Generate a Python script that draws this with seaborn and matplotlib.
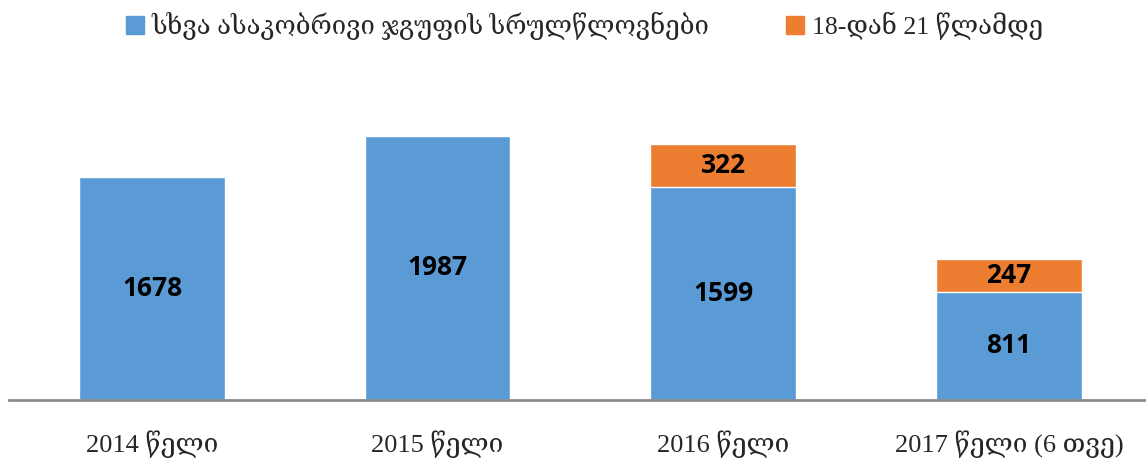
import matplotlib
matplotlib.use("Agg")
import matplotlib.pyplot as plt
import matplotlib.patches as mpatches
import pandas as pd
import seaborn as sns

# data
years = ["2014 წელი", "2015 წელი", "2016 წელი", "2017 წელი (6 თვე)"]
other_ages = [1678, 1987, 1599, 811]
age_18_21 = [0, 0, 322, 247]
series_names = ["სხვა ასაკობრივი ჯგუფის სრულწლოვნები", "18-დან 21 წლამდე"]

blue = "#5B9BD5"
orange = "#ED7D31"

sns.set_style("white")
label_font = ["Liberation Serif", "DejaVu Serif"]

df = pd.DataFrame({"year": years, "other": other_ages, "young": age_18_21})
df["total"] = df["other"] + df["young"]

fig = plt.figure(figsize=(11.46, 4.58), dpi=100)
ax = fig.add_axes([0.008, 0.127, 0.992, 0.72])

# stacked: orange total first, then blue base on top of it
sns.barplot(data=df, x="year", y="total", color=orange, width=0.51,
            saturation=1, ax=ax)
sns.barplot(data=df, x="year", y="other", color=blue, width=0.51,
            saturation=1, ax=ax)

for i, row in df.iterrows():
    ax.text(i, row["other"] / 2, str(row["other"]), ha="center", va="center",
            fontsize=19, fontweight="bold", family="Open Sans", color="black")
    if row["young"] > 0:
        ax.text(i, row["other"] + row["young"] / 2, str(row["young"]),
                ha="center", va="center", fontsize=19, fontweight="bold",
                family="Open Sans", color="black")

ax.set_ylim(0, 2480)
ax.set_xlim(-0.5, 3.48)
ax.set_xlabel("")
ax.set_ylabel("")
ax.set_yticks([])
ax.tick_params(axis="x", length=0, pad=22)
for lab in ax.get_xticklabels():
    lab.set_family(label_font)
    lab.set_fontsize(19)
for s in ["top", "right", "left"]:
    ax.spines[s].set_visible(False)
ax.spines["bottom"].set_color("#8c8c8c")
ax.spines["bottom"].set_linewidth(2)

handles = [mpatches.Patch(color=blue, label=series_names[0]),
           mpatches.Patch(color=orange, label=series_names[1])]
fig.legend(handles=handles, loc="upper center", bbox_to_anchor=(0.51, 1.025),
           ncol=2, frameon=False, handlelength=0.7, handleheight=0.7,
           handletextpad=0.3, columnspacing=3.0,
           prop={"family": label_font, "size": 18.5})

fig.savefig("out.png", dpi=100)
